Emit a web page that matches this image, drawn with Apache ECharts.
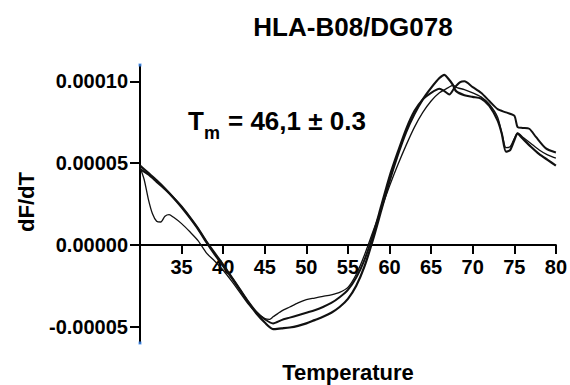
<!DOCTYPE html>
<html>
<head>
<meta charset="utf-8">
<script src="https://cdn.jsdelivr.net/npm/echarts@6/dist/echarts.min.js"></script>
<style>
html,body{margin:0;padding:0;background:#fff;}
#chart{width:570px;height:385px;}
</style>
</head>
<body>
<div id="chart"></div>
<script>
// values in units of 1e-5 (dF/dT)
const SCALE = 1e-5;
const tempA = [30,31,32,33,34,35,36,37,38,39,40,41,42,43,44,45,46,47,48,49,50,51,52,53,54,55,56,57,58,59,60,61,62,63,64,65,66,66.6,67,67.6,68,69,70,71,72,73,73.5,74,74.5,75,75.4,76,77,78,79,80];
const dfdtA = [4.85,4.4,3.95,3.45,2.9,2.3,1.65,0.95,0.15,-0.6,-1.3,-2.0,-2.75,-3.5,-4.2,-4.75,-5.15,-5.1,-5.05,-4.95,-4.8,-4.6,-4.4,-4.15,-3.8,-3.3,-2.5,-1.3,0.3,2.1,3.9,5.5,6.9,8.0,8.9,9.6,10.2,10.4,10.2,9.8,9.4,9.15,9.05,8.95,8.5,7.6,6.8,5.7,5.8,6.4,6.8,6.5,6.0,5.55,5.2,4.85];

const tempB = [30,31,32,33,34,35,36,37,38,39,40,41,42,43,44,45,46,47,48,49,50,51,52,53,54,55,56,57,58,59,60,61,62,63,64,65,66,66.6,67.2,67.8,68.5,69,70,71,72,73,74,75,75.4,76,76.8,77.6,78.8,80];
const dfdtB = [4.65,4.3,3.85,3.4,2.9,2.35,1.7,1.0,0.2,-0.5,-1.2,-1.95,-2.7,-3.45,-4.1,-4.55,-4.8,-4.6,-4.45,-4.3,-4.15,-4.0,-3.8,-3.55,-3.2,-2.75,-2.0,-0.9,0.6,2.4,4.2,5.7,7.1,8.2,8.9,9.3,9.55,9.4,9.2,9.6,9.95,10.0,9.65,9.3,8.8,8.3,8.1,7.9,7.2,7.15,7.1,6.6,5.9,5.65];

const tempC = [30,30.5,31,31.5,32,32.5,33,33.5,34,35,36,37,38,39,40,41,42,43,44,45,45.6,46,47,48,49,50,51,52,53,54,55,56,57,58,59,60,61,62,63,64,65,66,67,67.6,68.2,69,70,71,72,73,73.6,74,74.5,75,75.4,76,77,78,79,80];
const dfdtC = [4.75,4.0,2.8,1.9,1.45,1.4,1.75,1.85,1.7,1.3,0.8,0.25,-0.5,-1.0,-1.55,-2.2,-2.9,-3.6,-4.15,-4.5,-4.55,-4.4,-4.05,-3.8,-3.55,-3.35,-3.25,-3.15,-3.05,-2.9,-2.6,-1.8,-0.6,0.8,2.2,3.6,4.9,6.1,7.2,8.1,8.8,9.3,9.6,9.75,9.6,9.5,9.3,9.05,8.6,7.8,6.6,5.95,6.0,6.5,6.85,6.6,6.2,5.8,5.5,5.3];

const xTicks = [35,40,45,50,55,60,65,70,75,80];
const yTicks = [-0.00005,0,0.00005,0.0001];
const yMin = -0.00006, yMax = 0.00011;

function pairs(t, v){ const n=Math.min(t.length,v.length); const out=[]; for(let i=0;i<n;i++) out.push([t[i], v[i]*SCALE]); return out; }

const FONT = '"Liberation Sans", Arial, Helvetica, sans-serif';
const GRID = {left:140, right:13, top:65, bottom:42};
const gridH = 385 - GRID.top - GRID.bottom;
// shift the x axis (line, ticks, labels) from the grid bottom up to y = 0
const zeroOffset = -gridH * (0 - yMin) / (yMax - yMin);

const chart = echarts.init(document.getElementById('chart'), null, {renderer:'svg'});
const lineSeries = (data, w) => ({
  type:'line', data, showSymbol:false, symbol:'none', smooth:0.25,
  lineStyle:{color:'#111', width:w}, silent:true, z:3, clip:false
});
chart.setOption({
  animation:false,
  backgroundColor:'#fff',
  title:{
    text:'HLA-B08/DG078', left:348, top:9, textAlign:'center',
    textStyle:{fontFamily:FONT, fontWeight:'bold', fontSize:26, color:'#000'}
  },
  grid:Object.assign({containLabel:false}, GRID),
  xAxis:{
    type:'value', min:30, max:80, interval:5, position:'bottom', offset:zeroOffset,
    axisLine:{onZero:false, lineStyle:{color:'#000', width:2}},
    axisTick:{show:true, length:9, lineStyle:{color:'#000', width:2}, customValues:xTicks},
    axisLabel:{fontFamily:FONT, fontWeight:'bold', fontSize:20, color:'#000', margin:12, customValues:xTicks},
    splitLine:{show:false}
  },
  yAxis:{
    type:'value', min:yMin, max:yMax,
    axisLine:{show:true, onZero:false, lineStyle:{color:'#000', width:2}},
    axisTick:{show:true, length:10, lineStyle:{color:'#000', width:2}, customValues:yTicks},
    axisLabel:{fontFamily:FONT, fontWeight:'bold', fontSize:20, color:'#000', margin:12, customValues:yTicks,
      formatter:v=>Number(v).toFixed(5)},
    splitLine:{show:false}
  },
  series:[
    lineSeries(pairs(tempA,dfdtA), 2.2),
    lineSeries(pairs(tempB,dfdtB), 2.0),
    lineSeries(pairs(tempC,dfdtC), 1.3),
    {type:'scatter', data:[[30,yMax],[30,yMin]], symbol:'rect', symbolSize:3,
     itemStyle:{color:'#3d8bf0'}, silent:true, z:5, clip:false}
  ],
  graphic:[
    {type:'text', x:188, y:121, style:{text:'T', fill:'#000', font:'bold 26px '+FONT, textAlign:'left', textVerticalAlign:'middle'}},
    {type:'text', x:204, y:133, style:{text:'m', fill:'#000', font:'bold 18px '+FONT, textAlign:'left', textVerticalAlign:'middle'}},
    {type:'text', x:228, y:121, style:{text:'= 46,1 ± 0.3', fill:'#000', font:'bold 26px '+FONT, textAlign:'left', textVerticalAlign:'middle'}},
    {type:'text', x:26, y:202, rotation:Math.PI/2, style:{text:'dF/dT', fill:'#000', font:'bold 22px '+FONT, textAlign:'center', textVerticalAlign:'middle'}},
    {type:'text', x:348, y:372, style:{text:'Temperature', fill:'#000', font:'bold 22px '+FONT, textAlign:'center', textVerticalAlign:'middle'}}
  ]
});
</script>
</body>
</html>
